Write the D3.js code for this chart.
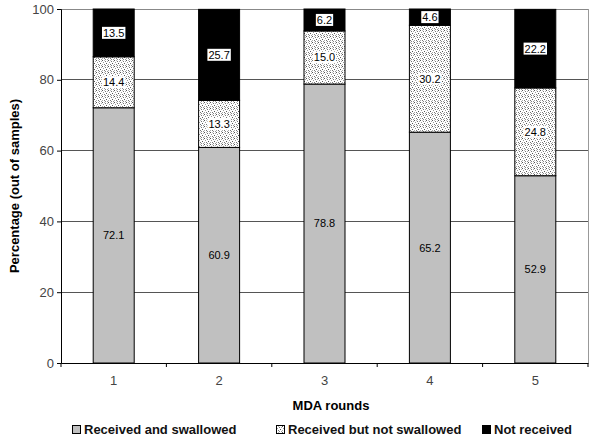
<!DOCTYPE html>
<html><head><meta charset="utf-8">
<script src="https://cdn.jsdelivr.net/npm/d3@7"></script>
<style>body{margin:0;background:#fff}svg{display:block}text{font-family:"Liberation Sans",Arial,sans-serif}</style>
</head><body>
<script>
const rounds = ["1","2","3","4","5"];
const receivedSwallowed = [72.1, 60.9, 78.8, 65.2, 52.9];
const receivedNotSwallowed = [14.4, 13.3, 15.0, 30.2, 24.8];
const notReceived = [13.5, 25.7, 6.2, 4.6, 22.2];
const yTicks = [0, 20, 40, 60, 80, 100];
const seriesNames = ["Received and swallowed", "Received but not swallowed", "Not received"];

const W = 600, H = 438;
const m = {l: 61, r: 12, t: 9, b: 75};
const svg = d3.select("body").append("svg").attr("width", W).attr("height", H);
const defs = svg.append("defs");
const pat = defs.append("pattern").attr("id","dots").attr("patternUnits","userSpaceOnUse").attr("width",6).attr("height",6);
pat.append("rect").attr("width",6).attr("height",6).attr("fill","#fff");
[[0,0,"#555"],[3,1,"#777"],[1,2,"#999"],[4,3,"#555"],[2,4,"#777"],[5,5,"#999"],[0,4,"#aaa"],[5,1,"#aaa"],[2,0,"#bbb"],[3,5,"#888"]]
  .forEach(([px, py, c]) => pat.append("rect").attr("x", px).attr("y", py).attr("width",1).attr("height",1).attr("fill", c));

const x = d3.scaleBand().domain(rounds).range([m.l, W - m.r]).paddingInner(0.611).paddingOuter(0.3055);
const y = d3.scaleLinear().domain([0, 100]).range([H - m.b, m.t]);

// gridlines
svg.append("g").selectAll("line").data(yTicks.filter(d => d > 0)).join("line")
  .attr("x1", m.l).attr("x2", W - m.r).attr("y1", d => y(d)).attr("y2", d => y(d))
  .attr("stroke", d => d === 100 ? "#888" : "#555").attr("stroke-width", 1).attr("shape-rendering","crispEdges");
// right border
svg.append("line").attr("x1", W - m.r).attr("x2", W - m.r).attr("y1", y(100)).attr("y2", y(0))
  .attr("stroke", "#999").attr("shape-rendering","crispEdges");

const data = rounds.map((r, i) => ({round: r, vals: [receivedSwallowed[i], receivedNotSwallowed[i], notReceived[i]]}));
const fills = ["#c0c0c0", "url(#dots)", "#000"];

const segs = [];
data.forEach(d => {
  let acc = 0;
  d.vals.forEach((v, k) => { segs.push({round: d.round, k, v, y0: acc, y1: acc + v}); acc += v; });
});

svg.append("g").selectAll("rect").data(segs).join("rect")
  .attr("x", d => x(d.round)).attr("width", x.bandwidth())
  .attr("y", d => y(Math.min(100, d.y1))).attr("height", d => y(d.y0) - y(Math.min(100, d.y1)))
  .attr("fill", d => fills[d.k]).attr("stroke", "#000").attr("stroke-width", 1);

// labels
const lg = svg.append("g");
segs.forEach(d => {
  const cx = x(d.round) + x.bandwidth() / 2;
  const cy = (y(d.y0) + y(Math.min(100, d.y1))) / 2;
  const t = lg.append("text").attr("x", cx).attr("y", cy).attr("dy", "0.36em")
    .attr("text-anchor", "middle").attr("font-size", 11).attr("fill", "#000").text(d.v.toFixed(1));
  if (d.k > 0) {
    const bb = t.node().getBBox();
    lg.insert("rect", "text").attr("x", bb.x - 1).attr("y", bb.y).attr("width", bb.width + 2).attr("height", bb.height)
      .attr("fill", "#fff");
  }
});
lg.selectAll("text").raise();

// axes
const yAxis = svg.append("g").attr("transform", `translate(${m.l},0)`)
  .call(d3.axisLeft(y).tickValues(yTicks).tickSize(4).tickPadding(3).tickFormat(d3.format("d")));
yAxis.select(".domain").attr("stroke", "#000");
yAxis.selectAll("text").attr("font-size", 13).attr("fill", "#444");
yAxis.selectAll(".tick line").attr("stroke", "#000");

const xAxis = svg.append("g").attr("transform", `translate(0,${y(0)})`)
  .call(d3.axisBottom(x).tickSize(0).tickPadding(13));
xAxis.select(".domain").attr("stroke", "#000");
xAxis.selectAll("text").attr("font-size", 13).attr("fill", "#444");
// tick marks between categories
const bounds = d3.range(rounds.length + 1).map(i => m.l + i * x.step());
svg.append("g").selectAll("line").data(bounds).join("line")
  .attr("x1", d => d).attr("x2", d => d).attr("y1", y(0)).attr("y2", y(0) + 4).attr("stroke", "#000");

// titles
svg.append("text").attr("x", 331).attr("y", 410).attr("text-anchor", "middle")
  .attr("font-size", 13).attr("font-weight", "bold").text("MDA rounds");
svg.append("text").attr("transform", `translate(19,${(m.t + y(0)) / 2}) rotate(-90)`).attr("text-anchor", "middle")
  .attr("font-size", 13).attr("font-weight", "bold").text("Percentage (out of samples)");

// legend
const legX = [72, 276, 482];
const leg = svg.append("g");
seriesNames.forEach((n, i) => {
  leg.append("rect").attr("x", legX[i] + 0.5).attr("y", 425.5).attr("width", 8).attr("height", 8)
    .attr("fill", fills[i]).attr("stroke", "#000");
  leg.append("text").attr("x", legX[i] + 12).attr("y", 434).attr("font-size", 13).attr("font-weight", "bold")
    .attr("fill", "#111").text(n);
});
</script>
</body></html>
